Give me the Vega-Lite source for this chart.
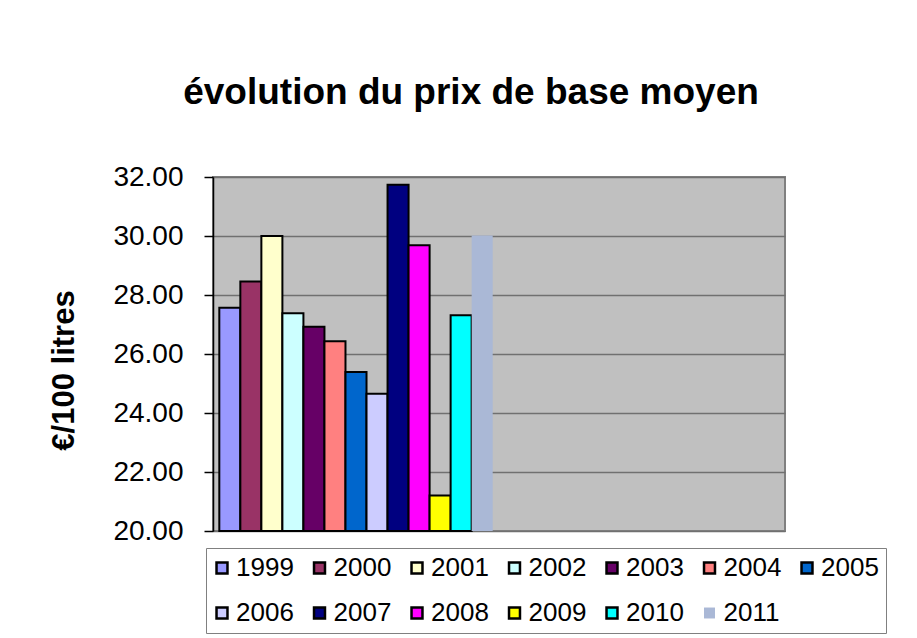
{
  "$schema": "https://vega.github.io/schema/vega-lite/v6.json",
  "width": 572,
  "height": 354,
  "autosize": {"type": "none"},
  "padding": {"left": 213, "top": 177, "right": 132, "bottom": 107},
  "background": "white",
  "config": {
    "font": "Liberation Sans",
    "view": {"fill": "#C0C0C0", "stroke": "#808080", "strokeWidth": 2}
  },
  "title": {
    "text": "évolution du prix de base moyen",
    "font": "Liberation Sans",
    "fontSize": 37,
    "fontWeight": "bold",
    "color": "black",
    "anchor": "middle",
    "frame": "group",
    "baseline": "alphabetic",
    "offset": 22,
    "dx": -28
  },
  "data": {
    "values": [
      {"cat": "A", "year": "1999", "price": 27.57},
      {"cat": "A", "year": "2000", "price": 28.46},
      {"cat": "A", "year": "2001", "price": 30.0},
      {"cat": "A", "year": "2002", "price": 27.38},
      {"cat": "A", "year": "2003", "price": 26.92},
      {"cat": "A", "year": "2004", "price": 26.43},
      {"cat": "A", "year": "2005", "price": 25.39},
      {"cat": "A", "year": "2006", "price": 24.65},
      {"cat": "A", "year": "2007", "price": 31.74},
      {"cat": "A", "year": "2008", "price": 29.69},
      {"cat": "A", "year": "2009", "price": 21.2},
      {"cat": "A", "year": "2010", "price": 27.31},
      {"cat": "A", "year": "2011", "price": 30.02}
    ]
  },
  "mark": {"type": "bar", "stroke": "black"},
  "encoding": {
    "x": {
      "field": "cat",
      "type": "nominal",
      "scale": {"domain": ["A", "B"], "paddingInner": 0, "paddingOuter": 0},
      "axis": null
    },
    "xOffset": {
      "field": "year",
      "type": "nominal",
      "scale": {"paddingInner": 0, "paddingOuter": 0.3}
    },
    "y": {
      "field": "price",
      "type": "quantitative",
      "scale": {"domain": [20, 32], "zero": false, "nice": false},
      "axis": {
        "title": "€/100 litres",
        "titleFont": "Liberation Sans",
        "titleFontSize": 31,
        "titleFontWeight": "bold",
        "titleColor": "black",
        "titleAngle": -90,
        "titleAlign": "center",
        "titleBaseline": "alphabetic",
        "titleX": -140,
        "titleY": 193,
        "values": [20, 22, 24, 26, 28, 30, 32],
        "format": ".2f",
        "labelFont": "Liberation Sans",
        "labelFontSize": 28,
        "labelColor": "black",
        "labelPadding": 21,
        "tickSize": 9,
        "tickColor": "black",
        "tickWidth": 1.5,
        "domainColor": "black",
        "domainWidth": 1.5,
        "grid": true,
        "gridColor": "#707070",
        "gridWidth": 1.5
      }
    },
    "y2": {"datum": 20},
    "strokeWidth": {
      "condition": {"test": "datum.year == '2011'", "value": 0},
      "value": 2
    },
    "color": {
      "field": "year",
      "type": "nominal",
      "scale": {
        "domain": ["1999", "2000", "2001", "2002", "2003", "2004", "2005", "2006", "2007", "2008", "2009", "2010", "2011"],
        "range": ["#9999FF", "#993366", "#FFFFCC", "#CCFFFF", "#660066", "#FF8080", "#0066CC", "#CCCCFF", "#000080", "#FF00FF", "#FFFF00", "#00FFFF", "#AAB8D6"]
      },
      "legend": {
        "title": null,
        "orient": "none",
        "legendX": -7,
        "legendY": 371,
        "direction": "horizontal",
        "columns": 7,
        "padding": 7,
        "strokeColor": "#808080",
        "fillColor": "white",
        "symbolType": "square",
        "symbolSize": 120,
        "symbolStrokeColor": "black",
        "symbolStrokeWidth": 2.5,
        "symbolOpacity": 1,
        "symbolOffset": -4,
        "labelFont": "Liberation Sans",
        "labelFontSize": 26,
        "labelColor": "black",
        "labelOffset": 1,
        "columnPadding": 14.5,
        "rowPadding": 19,
        "encode": {
          "symbols": {
            "update": {
              "strokeWidth": {"signal": "datum.value == '2011' ? 0 : 2.5"}
            }
          }
        }
      }
    }
  }
}
